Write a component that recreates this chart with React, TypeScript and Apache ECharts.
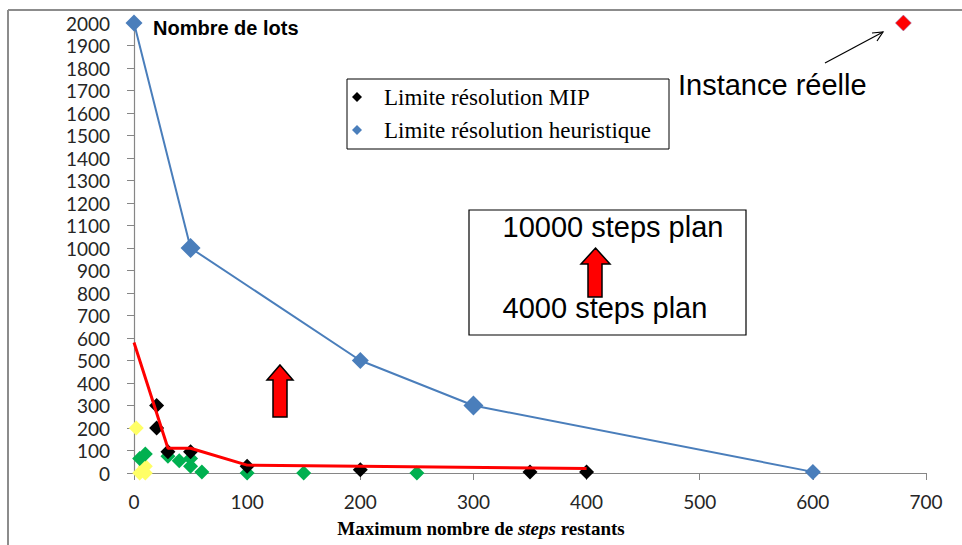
import React, { useEffect, useRef } from "react";
import * as echarts from "echarts";

const xTicks = [0, 100, 200, 300, 400, 500, 600, 700];
const heuristicX = [0, 50, 200, 300, 600];
const heuristicY = [2000, 1000, 500, 300, 5];
const heuristicSize = [17, 20, 17, 20, 16];
const mipX = [20, 20, 30, 50, 100, 200, 350, 400];
const mipY = [300, 200, 95, 95, 30, 15, 5, 5];
const greenX = [5, 10, 30, 40, 50, 50, 60, 100, 150, 250];
const greenY = [65, 85, 75, 55, 65, 30, 5, 0, 0, 0];
const yellowX = [2, 5, 10, 10];
const yellowY = [200, 0, 30, 0];
const trendX = [0, 30, 50, 100, 200, 400];
const trendY = [580, 110, 110, 35, 30, 20];
const realX = [680];
const realY = [2000];

const zip = (xs: number[], ys: number[]) => xs.map((x, i) => [x, ys[i]]);

export default function App() {
  const ref = useRef<HTMLDivElement>(null);
  useEffect(() => {
    if (!ref.current) return;
    const chart = echarts.init(ref.current, undefined, { renderer: "svg" });
    const axisColor = "#868686";
    const labelFont = { fontFamily: "Lato", fontSize: 19, color: "#262626" };
    const diamond = (cx: number, cy: number, r: number, fill: string) => ({
      type: "polygon",
      shape: { points: [[cx, cy - r], [cx + r, cy], [cx, cy + r], [cx - r, cy]] },
      style: { fill },
    });
    const upArrow = (l: number, r: number, tip: number, base: number, sl: number, sr: number, bottom: number) => ({
      type: "polygon",
      shape: {
        points: [
          [(l + r) / 2, tip], [r, base], [sr, base], [sr, bottom],
          [sl, bottom], [sl, base], [l, base],
        ],
      },
      style: { fill: "#ff0000", stroke: "#000", lineWidth: 1.5 },
    });
    chart.setOption({
      animation: false,
      backgroundColor: "#fff",
      grid: { left: 134, right: 36, top: 23, bottom: 72, containLabel: false },
      xAxis: {
        type: "value",
        min: 0,
        max: 700,
        interval: 100,
        axisLine: { show: true, onZero: false, lineStyle: { color: axisColor, width: 1.2 } },
        axisTick: { show: true, inside: false, length: 7, lineStyle: { color: axisColor } },
        axisLabel: { ...labelFont, margin: 19, formatter: (v: number) => (xTicks.includes(v) ? String(v) : "") },
        splitLine: { show: false },
      },
      yAxis: {
        type: "value",
        min: 0,
        max: 2000,
        interval: 100,
        axisLine: { show: true, lineStyle: { color: axisColor, width: 1.2 } },
        axisTick: { show: true, inside: false, length: 7, lineStyle: { color: axisColor } },
        axisLabel: { ...labelFont, margin: 24, formatter: (v: number) => String(v) },
        splitLine: { show: false },
      },
      series: [
        {
          name: "Limite résolution heuristique",
          type: "line",
          data: zip(heuristicX, heuristicY).map((d, i) => ({ value: d, symbolSize: heuristicSize[i] })),
          symbol: "diamond",
          lineStyle: { color: "#4a7ebb", width: 2 },
          itemStyle: { color: "#4a7ebb", opacity: 1 },
          z: 2,
        },
        {
          name: "yellow",
          type: "scatter",
          data: zip(yellowX, yellowY),
          symbol: "diamond",
          symbolSize: 15,
          itemStyle: { color: "#ffff66", opacity: 1 },
          z: 3,
        },
        {
          name: "green",
          type: "scatter",
          data: zip(greenX, greenY),
          symbol: "diamond",
          symbolSize: 15,
          itemStyle: { color: "#00b050", opacity: 1 },
          z: 4,
        },
        {
          name: "Limite résolution MIP",
          type: "scatter",
          data: zip(mipX, mipY),
          symbol: "diamond",
          symbolSize: 15,
          itemStyle: { color: "#000", opacity: 1 },
          z: 5,
        },
        {
          name: "tendance",
          type: "line",
          data: zip(trendX, trendY),
          showSymbol: false,
          symbol: "none",
          lineStyle: { color: "#ff0000", width: 3 },
          z: 6,
        },
        {
          name: "Instance réelle",
          type: "scatter",
          data: zip(realX, realY),
          symbol: "diamond",
          symbolSize: 16,
          itemStyle: { color: "#ff0000", borderColor: "#8080c0", borderWidth: 0.5, opacity: 1 },
          z: 7,
        },
      ],
      graphic: [
        { type: "line", shape: { x1: 8, y1: 10, x2: 962, y2: 10 }, style: { stroke: "#8c8c8c", lineWidth: 2 } },
        { type: "line", shape: { x1: 8, y1: 10, x2: 8, y2: 545 }, style: { stroke: "#8c8c8c", lineWidth: 2 } },
        {
          type: "text",
          x: 153,
          y: 28,
          style: { text: "Nombre de lots", font: "bold 20px 'Liberation Sans'", fill: "#000", verticalAlign: "middle" },
        },
        {
          type: "rect",
          shape: { x: 347, y: 79, width: 322, height: 70 },
          style: { fill: "#fff", stroke: "#000", lineWidth: 1 },
        },
        diamond(357, 97, 5, "#000"),
        diamond(357, 130, 5, "#4a7ebb"),
        {
          type: "text",
          x: 384,
          y: 97,
          style: { text: "Limite résolution MIP", font: "23px 'Liberation Serif'", fill: "#000", verticalAlign: "middle" },
        },
        {
          type: "text",
          x: 384,
          y: 130,
          style: { text: "Limite résolution heuristique", font: "23px 'Liberation Serif'", fill: "#000", verticalAlign: "middle" },
        },
        {
          type: "rect",
          shape: { x: 469, y: 210, width: 277, height: 125 },
          style: { fill: "#fff", stroke: "#000", lineWidth: 1.2 },
        },
        {
          type: "text",
          x: 613,
          y: 227,
          style: { text: "10000 steps plan", font: "29px 'Liberation Sans'", fill: "#000", align: "center", verticalAlign: "middle" },
        },
        {
          type: "text",
          x: 605,
          y: 308,
          style: { text: "4000 steps plan", font: "29px 'Liberation Sans'", fill: "#000", align: "center", verticalAlign: "middle" },
        },
        upArrow(581, 610, 248, 264, 588, 602, 297),
        upArrow(267, 293, 365, 380, 273, 287, 417),
        {
          type: "text",
          x: 678,
          y: 85,
          style: { text: "Instance réelle", font: "29px 'Liberation Sans'", fill: "#000", verticalAlign: "middle" },
        },
        { type: "line", shape: { x1: 825, y1: 63, x2: 883, y2: 32 }, style: { stroke: "#000", lineWidth: 1.2 } },
        {
          type: "polyline",
          shape: { points: [[872, 33], [883, 32], [877, 41]] },
          style: { stroke: "#000", lineWidth: 1.2, fill: "none" },
        },
        {
          type: "text",
          x: 481,
          y: 528,
          style: {
            text: "{b|Maximum nombre de }{i|steps}{b| restants}",
            align: "center",
            verticalAlign: "middle",
            rich: {
              b: { font: "bold 19px 'Liberation Serif'", fill: "#000" },
              i: { font: "italic bold 19px 'Liberation Serif'", fill: "#000" },
            },
          },
        },
      ],
    });
    return () => chart.dispose();
  }, []);
  return (
    <div
      ref={ref}
      style={{ position: "fixed", left: 0, top: 0, width: 962, height: 545, background: "#fff" }}
    />
  );
}
